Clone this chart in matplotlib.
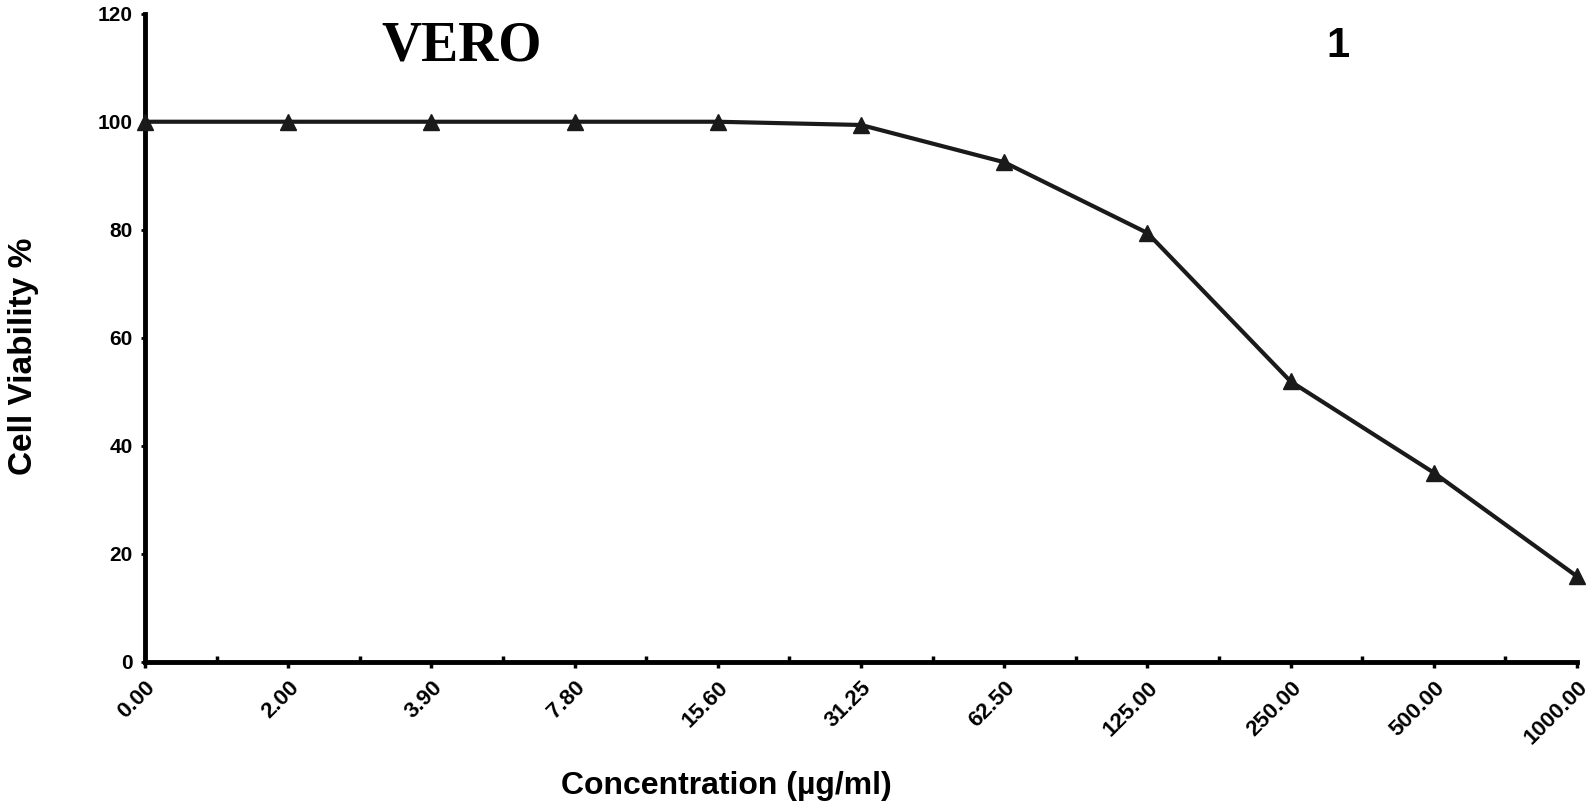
import matplotlib
matplotlib.use("Agg")
import matplotlib.pyplot as plt
import numpy as np

# data
concentrations = ["0.00", "2.00", "3.90", "7.80", "15.60", "31.25",
                  "62.50", "125.00", "250.00", "500.00", "1000.00"]
viability = [100, 100, 100, 100, 100, 99.4, 92.5, 79.4, 51.9, 35.0, 15.8]
y_ticks = [0, 20, 40, 60, 80, 100, 120]

plt.rcParams['font.family'] = ['Liberation Sans', 'DejaVu Sans']

fig = plt.figure(figsize=(15.93, 8.08), dpi=100)
ax = fig.add_axes([0.091, 0.181, 0.899, 0.802])

x = np.arange(len(concentrations))
ax.plot(x, viability, color="#1a1a1a", linewidth=3.0, marker="^",
        markersize=12, markerfacecolor="#1a1a1a", markeredgecolor="#1a1a1a",
        clip_on=False, zorder=3)

ax.set_xlim(0, len(concentrations) - 1)
ax.set_ylim(0, 120)
ax.set_yticks(y_ticks)
ax.set_xticks(x)
ax.set_xticklabels(concentrations, rotation=45, ha="right", rotation_mode="anchor",
                   fontsize=16, fontweight="bold")
ax.set_xticks(x[:-1] + 0.5, minor=True)
for lab in ax.get_yticklabels():
    lab.set_fontsize(15)
    lab.set_fontweight("bold")

for side in ["top", "right"]:
    ax.spines[side].set_visible(False)
for side in ["left", "bottom"]:
    ax.spines[side].set_linewidth(3.5)
    ax.spines[side].set_color("black")

ax.tick_params(axis="y", length=3, width=2, pad=6)
ax.tick_params(axis="x", which="major", direction="out", length=4, width=2.5, pad=7)
ax.tick_params(axis="x", which="minor", direction="in", length=4, width=2.5)

ax.set_xlabel("Concentration (µg/ml)", fontsize=23, fontweight="bold")
ax.xaxis.set_label_coords(0.406, -0.168)
ax.set_ylabel("Cell Viability %", fontsize=24, fontweight="bold")
ax.yaxis.set_label_coords(-0.074, 0.472)

ax.text(0.221, 0.95, "VERO", transform=ax.transAxes, ha="center", va="center",
        fontsize=40, fontweight="bold", family="Liberation Serif")
ax.text(0.833, 0.95, "1", transform=ax.transAxes, ha="center", va="center",
        fontsize=30, fontweight="bold")

fig.savefig("out.png", dpi=100)
